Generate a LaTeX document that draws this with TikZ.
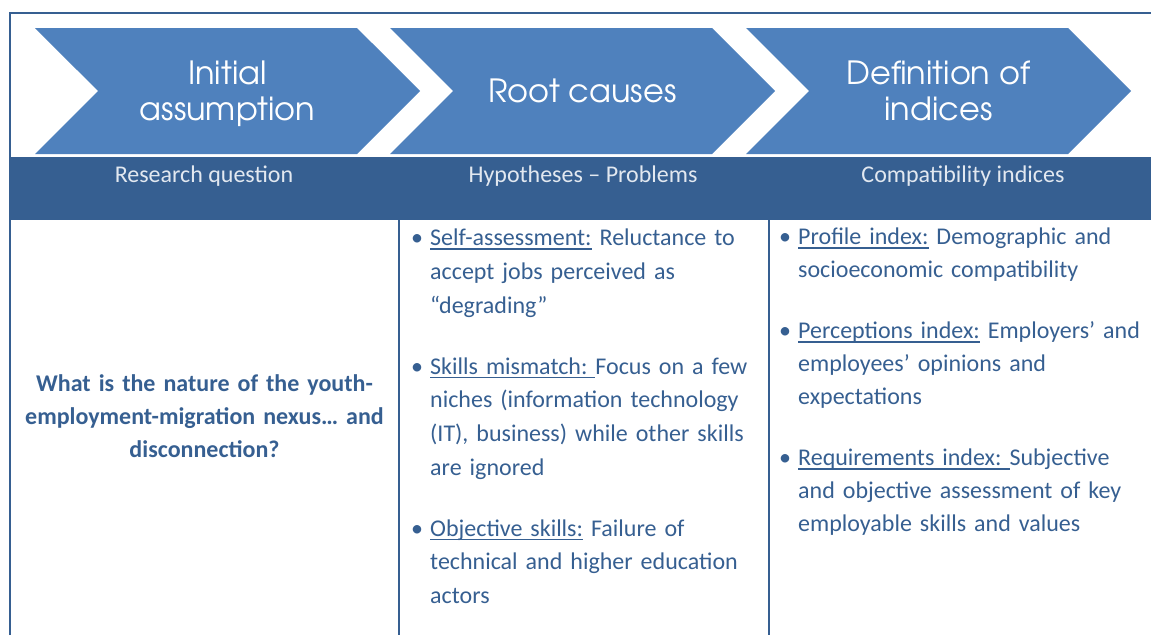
\documentclass[tikz,border=0pt]{standalone}
\usepackage{fontspec}
\setmainfont{Carlito}
\newfontfamily\chevfont[Extension=.otf]{texgyreadventor-regular}
\usetikzlibrary{shapes.symbols, positioning}

\definecolor{chevblue}{RGB}{79,129,189}
\definecolor{banddark}{RGB}{54,95,145}
\definecolor{inkblue}{RGB}{54,95,145}
\definecolor{bandtext}{RGB}{226,232,240}

\frenchspacing
% underline at a fixed depth
\newcommand{\leadline}[1]{\setbox0\hbox{#1}\rlap{\rule[-4pt]{\wd0}{1.5pt}}\box0{}}
% bullet item with underlined lead-in
\newcommand{\bulitem}[2]{\hangindent=19pt\hangafter=1\noindent\makebox[19pt][l]{\textbullet}\leadline{#1}#2\par}

\tikzset{
  chevron/.style={signal, signal from=west, signal to=east, signal pointer angle=90,
    fill=chevblue, minimum width=385pt, minimum height=126pt, inner sep=0pt,
    text=white, align=center, font=\chevfont\fontsize{32}{36}\selectfont},
  bandlabel/.style={anchor=base, text=bandtext, font=\fontsize{24}{28}\selectfont},
  colrule/.style={draw=banddark, line width=2pt},
  itemcol/.style={anchor=north west, inner sep=0pt, text width=375pt, align=left,
    text=inkblue, font=\fontsize{24}{33.6}\selectfont},
}

\begin{document}
\begin{tikzpicture}[x=1pt, y=-1pt]
\useasboundingbox (0,0) rectangle (1151,635);

% Outer frame
\draw[colrule, line width=1.6pt] (10,635) -- (10,13) -- (1151,13);

% Process chevrons
\node[chevron] (assume) at (227.5,91) {\raisebox{0pt}[\dimexpr\height+6pt\relax]{Initial}\\assumption};
\node[chevron] (causes) at (582.5,91) {Root causes};
\node[chevron] (define) at (938.5,91) {Definition of\\indices};

% Header band
\node[fill=banddark, anchor=north west, inner sep=0pt, minimum width=1141pt, minimum height=63pt] (band) at (10,157) {};
\node[bandlabel] (rq) at (204,182) {Research question};
\node[bandlabel] (hp) at (583,182) {Hypotheses -- Problems};
\node[bandlabel] (ci) at (963,182) {Compatibility indices};

% Column separators
\draw[colrule] (399,220) -- (399,635);
\draw[colrule] (769,220) -- (769,635);

% Research question
\node[text width=370pt, align=center, text=inkblue, font=\bfseries\fontsize{24}{33.3}\selectfont] (question) at (204.5,416)
  {What is the nature of the youth-\\employment-migration nexus\ldots{} and\\disconnection?};

% Hypotheses
\node[itemcol] (hyp) at (411,229) {%
  \bulitem{Self-assessment:}{ Reluctance to\newline accept jobs perceived as\newline “degrading”}
  \vspace{27.6pt}
  \bulitem{Skills mismatch: }{Focus on a few\newline niches (information technology\newline (IT), business) while other skills\newline are ignored}
  \vspace{27.6pt}
  \bulitem{Objective skills:}{ Failure of\newline technical and higher education\newline actors}
};

% Indices
\node[itemcol, font=\fontsize{24}{33}\selectfont] (idx) at (779,228) {%
  \bulitem{Profile index:}{ Demographic and\newline socioeconomic compatibility}
  \vspace{28pt}
  \bulitem{Perceptions index:}{ Employers’ and\newline employees’ opinions and\newline expectations}
  \vspace{28pt}
  \bulitem{Requirements index: }{Subjective\newline and objective assessment of key\newline employable skills and values}
};
\end{tikzpicture}
\end{document}
